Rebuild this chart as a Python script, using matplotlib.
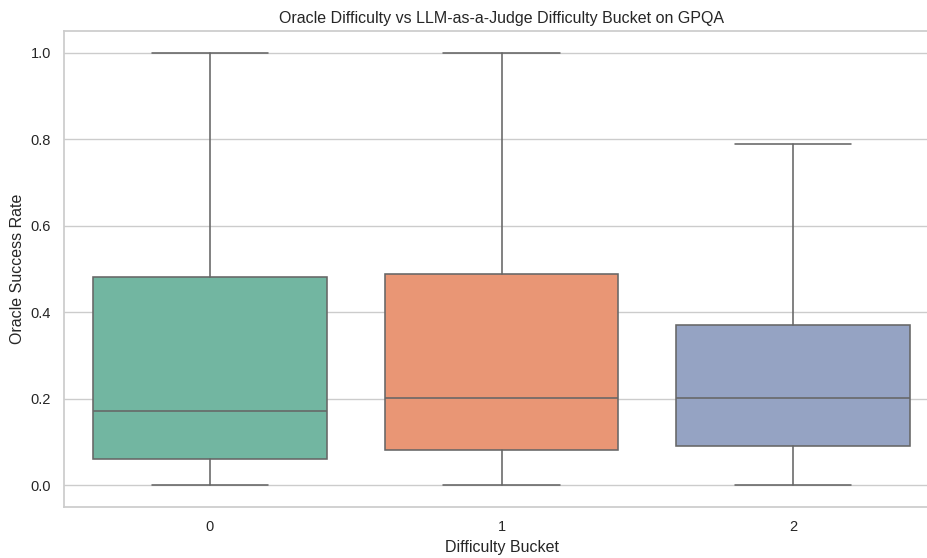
import numpy as np
import matplotlib
matplotlib.use('Agg')
import matplotlib.pyplot as plt
import seaborn as sns

sns.set_theme(style='whitegrid')
plt.rcParams['font.family'] = ['Liberation Sans', 'DejaVu Sans']

# values
buckets = ['0', '1', '2']
whisker_low = [0.0, 0.0, 0.0]
q1 = [0.062, 0.081, 0.092]
median = [0.172, 0.202, 0.202]
q3 = [0.481, 0.488, 0.371]
whisker_high = [1.0, 1.0, 0.79]

colors = [sns.desaturate(c, 0.75) for c in sns.color_palette('Set2', 3)]
line_color = '#666666'

fig = plt.figure(figsize=(9.27, 5.58), dpi=100)
ax = fig.add_axes([0.0693, 0.0914, 0.9434, 0.853])

stats = []
for i, name in enumerate(buckets):
    stats.append(dict(label=name, whislo=whisker_low[i], q1=q1[i], med=median[i],
                      q3=q3[i], whishi=whisker_high[i], fliers=[]))

bp = ax.bxp(stats, positions=range(len(buckets)), widths=0.8, patch_artist=True,
            showfliers=False,
            boxprops=dict(edgecolor=line_color, linewidth=1.15),
            whiskerprops=dict(color=line_color, linewidth=1.15),
            capprops=dict(color=line_color, linewidth=1.15),
            medianprops=dict(color=line_color, linewidth=1.15))
for patch, c in zip(bp['boxes'], colors):
    patch.set_facecolor(c)

ax.set_xlim(-0.5, 2.5)
ax.set_ylim(-0.05, 1.05)
ax.set_yticks([0.0, 0.2, 0.4, 0.6, 0.8, 1.0])
ax.xaxis.grid(False)
ax.set_title('Oracle Difficulty vs LLM-as-a-Judge Difficulty Bucket on GPQA', fontsize=11.5)
ax.set_xlabel('Difficulty Bucket', fontsize=11.5)
ax.set_ylabel('Oracle Success Rate', fontsize=11.5)
ax.tick_params(labelsize=10.5)

fig.savefig('out.png', dpi=100)
